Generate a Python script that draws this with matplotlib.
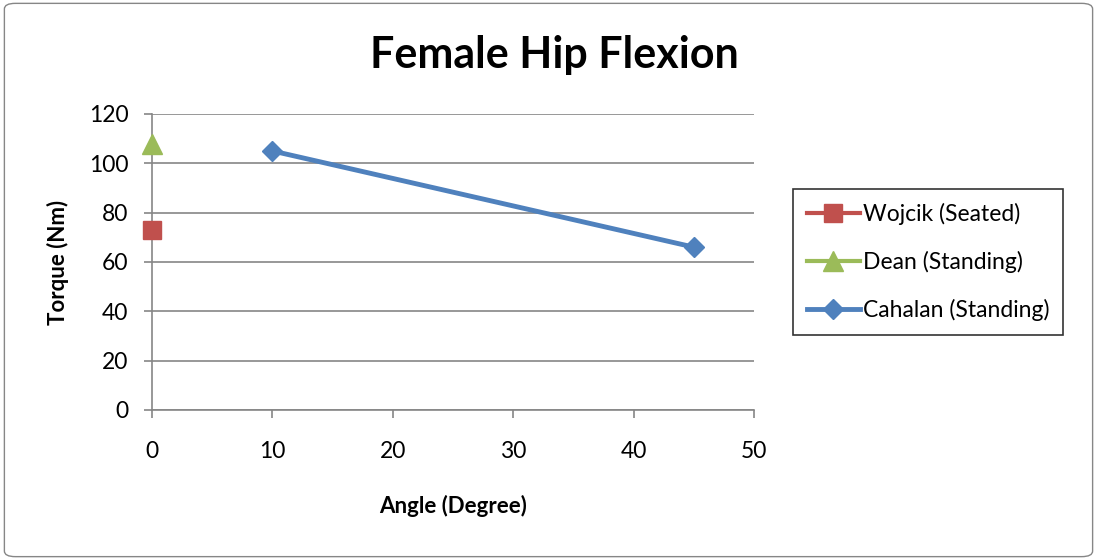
import matplotlib.pyplot as plt
from matplotlib.patches import FancyBboxPatch

plt.rcParams['font.family'] = ['Lato', 'DejaVu Sans']

wojcik_x = [0]
wojcik_y = [73]
dean_x = [0]
dean_y = [108]
cahalan_x = [10, 45]
cahalan_y = [105, 66]

fig = plt.figure(figsize=(10.97, 5.60), dpi=100)
ax = fig.add_axes([0.1386, 0.2679, 0.5488, 0.5286])

ax.plot(wojcik_x, wojcik_y, color='#C0504D', marker='s', markersize=13, lw=3,
        label='Wojcik (Seated)', clip_on=False, zorder=5)
ax.plot(dean_x, dean_y, color='#9BBB59', marker='^', markersize=14, lw=3,
        label='Dean (Standing)', clip_on=False, zorder=5)
ax.plot(cahalan_x, cahalan_y, color='#4F81BD', marker='D', markersize=10, lw=3.5,
        label='Cahalan (Standing)', clip_on=False, zorder=5)

ax.set_xlim(0, 50)
ax.set_ylim(0, 120)
ax.set_xticks(range(0, 51, 10))
ax.set_yticks(range(0, 121, 20))
ax.grid(axis='y', color='#868686', lw=1.2)
ax.set_axisbelow(True)
for s in ['top', 'right']:
    ax.spines[s].set_visible(False)
for s in ['left', 'bottom']:
    ax.spines[s].set_color('#868686')
    ax.spines[s].set_linewidth(1.2)
ax.tick_params(axis='both', colors='#868686', labelcolor='black', labelsize=16.5,
               length=6, width=1.2)
ax.tick_params(axis='y', pad=11)
ax.tick_params(axis='x', pad=16)

ax.set_title('Female Hip Flexion', fontsize=31, fontweight='bold', pad=33, x=0.669)
ax.set_xlabel('Angle (Degree)', fontsize=16, fontweight='bold', labelpad=24)
ax.set_ylabel('Torque (Nm)', fontsize=16, fontweight='bold', labelpad=14)

leg = ax.legend(loc='center left', bbox_to_anchor=(1.065, 0.5), fontsize=16.5,
                frameon=True, fancybox=False, edgecolor='black', handlelength=2.3,
                handletextpad=0.15, labelspacing=1.12, borderpad=0.6,
                borderaxespad=0)
leg.get_frame().set_linewidth(1.2)

border = FancyBboxPatch((0.004, 0.006), 0.992, 0.988, boxstyle='round,pad=0,rounding_size=0.01',
                        transform=fig.transFigure, fill=False, edgecolor='#868686', lw=1)
fig.patches.append(border)

fig.savefig('out.png', dpi=100)
